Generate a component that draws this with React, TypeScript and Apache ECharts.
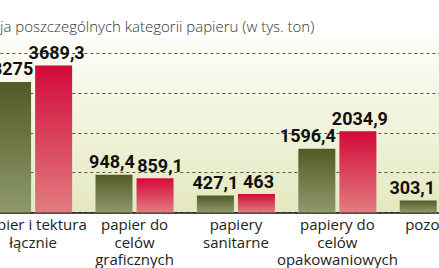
import React, { useEffect, useRef } from "react";
import * as echarts from "echarts";

const categories = [
  "papier i tektura\nłącznie",
  "papier do\ncelów\ngraficznych",
  "papiery\nsanitarne",
  "papiery do\ncelów\nopakowaniowych",
  "pozostałe",
];
const seriesGreen = [3275, 948.4, 427.1, 1596.4, 303.1];
const seriesRed: (number | null)[] = [3689.3, 859.1, 463, 2034.9, null];
const yTicks = [0, 1000, 2000, 3000, 4000];
const titleText = "ja poszczególnych kategorii papieru (w tys. ton)";

// small horizontal nudges of the value labels (style only)
const greenLabelShift = [0, -2, 0, -9, -6];
const redLabelShift = [3, 5, 2, 2, 0];

const fmt = (v: number) => String(v).replace(".", ",");

// the reference is a crop of a wider chart: the chart is drawn wider and shifted left
const SHIFT = 23;

export default function App() {
  const ref = useRef<HTMLDivElement>(null);
  useEffect(() => {
    if (!ref.current) return;
    const chart = echarts.init(ref.current, undefined, { renderer: "svg" });
    const labelBase = {
      show: true,
      position: "top",
      distance: 4,
      fontFamily: "Roboto, sans-serif",
      fontWeight: "bold",
      fontSize: 18,
      color: "#111",
      formatter: (p: any) => (p.value == null ? "" : fmt(p.value)),
    };
    chart.setOption({
      animation: false,
      backgroundColor: "#ffffff",
      graphic: [
        {
          type: "rect",
          z: -10,
          silent: true,
          shape: { x: SHIFT, y: 38, width: 439, height: 176 },
          style: {
            fill: new echarts.graphic.LinearGradient(0, 0, 0, 1, [
              { offset: 0, color: "#fdfdf8" },
              { offset: 1, color: "#e4e8bf" },
            ]),
          },
        },
        {
          type: "text",
          left: SHIFT,
          top: 18,
          style: {
            text: titleText,
            fontFamily: "'Open Sans', sans-serif",
            fontWeight: 300,
            fontSize: 15,
            fill: "#333",
          },
        },
      ],
      grid: { left: 0, top: 53, width: 512.5, height: 161, containLabel: false },
      xAxis: {
        type: "category",
        data: categories,
        axisTick: { show: false },
        axisLine: { show: true, lineStyle: { color: "#1a1a1a", width: 1.5 } },
        axisLabel: {
          interval: 0,
          margin: 3,
          fontFamily: "'Open Sans', sans-serif",
          fontSize: 15,
          lineHeight: 17.5,
          color: "#222",
        },
      },
      yAxis: {
        type: "value",
        min: yTicks[0],
        max: yTicks[yTicks.length - 1],
        interval: yTicks[1] - yTicks[0],
        axisLabel: { show: false },
        axisLine: { show: false },
        axisTick: { show: false },
        splitLine: { show: true, lineStyle: { color: "#555", width: 1, type: [3, 3] } },
      },
      series: [
        {
          type: "bar",
          barWidth: 37,
          barGap: "11%",
          data: seriesGreen.map((v, i) => ({
            value: v,
            label: { offset: [greenLabelShift[i], 0] },
          })),
          itemStyle: {
            color: new echarts.graphic.LinearGradient(0, 0, 0, 1, [
              { offset: 0, color: "#525a27" },
              { offset: 1, color: "#8f9a6b" },
            ]),
          },
          label: labelBase,
        },
        {
          type: "bar",
          barWidth: 37,
          data: seriesRed.map((v, i) => ({
            value: v,
            label: { offset: [redLabelShift[i], 0] },
          })),
          itemStyle: {
            color: new echarts.graphic.LinearGradient(0, 0, 0, 1, [
              { offset: 0, color: "#d20a3a" },
              { offset: 1, color: "#e27c80" },
            ]),
          },
          label: labelBase,
        },
      ],
    });
    return () => chart.dispose();
  }, []);
  return (
    <div style={{ position: "fixed", left: 0, top: 0, width: 439, height: 268, overflow: "hidden", background: "#fff" }}>
      <div
        ref={ref}
        style={{ position: "absolute", left: -SHIFT, top: 0, width: 540, height: 268 }}
      />
    </div>
  );
}
